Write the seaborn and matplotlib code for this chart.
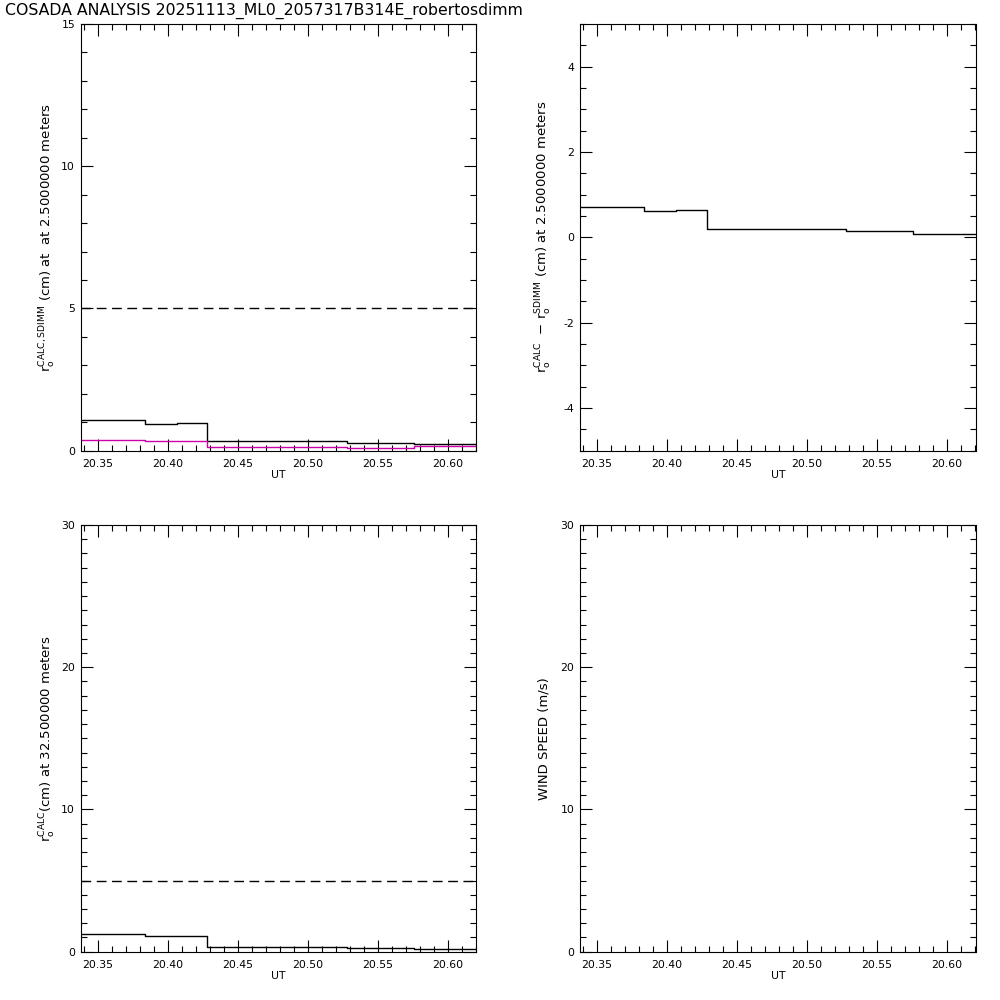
import numpy as np
import pandas as pd
import matplotlib
matplotlib.use("Agg")
import matplotlib.pyplot as plt
from matplotlib.ticker import MultipleLocator, FormatStrFormatter
import seaborn as sns

# ---- data ----
ut_edges = [20.3379, 20.3838, 20.4064, 20.4283, 20.5278, 20.5759, 20.6203]
r0_calc_2p5 = [1.07, 0.95, 0.96, 0.33, 0.26, 0.22]
r0_sdimm_2p5 = [0.37, 0.34, 0.33, 0.12, 0.08, 0.15]
r0_diff_2p5 = [0.70, 0.61, 0.63, 0.20, 0.155, 0.07]
r0_calc_32p5 = [1.23, 1.09, 1.09, 0.36, 0.29, 0.22]
ref_level_top = 5.0
ref_level_bottom = 5.0
x_ticks = [20.35, 20.40, 20.45, 20.50, 20.55, 20.60]

title = "COSADA ANALYSIS 20251113_ML0_2057317B314E_robertosdimm"
ylab_tl = r"r$_{\mathrm{o}}^{\mathrm{CALC,SDIMM}}$ (cm) at  at 2.5000000 meters"
ylab_tr = r"r$_{\mathrm{o}}^{\mathrm{CALC}}$  $-$ r$_{\mathrm{o}}^{\mathrm{SDIMM}}$ (cm) at 2.5000000 meters"
ylab_bl = r"r$_{\mathrm{o}}^{\mathrm{CALC}}$(cm) at 32.500000 meters"
ylab_br = "WIND SPEED (m/s)"

sns.set_theme(style="ticks")
plt.rcParams["font.family"] = ["DejaVu Sans"]
plt.rcParams["mathtext.fontset"] = "dejavusans"
plt.rcParams["axes.linewidth"] = 0.8

def step_df(vals):
    return pd.DataFrame({"UT": ut_edges, "v": list(vals) + [vals[-1]]})

fig = plt.figure(figsize=(10, 10), dpi=100)
fig.patch.set_facecolor("white")

L1, L2, W = 0.0807, 0.580, 0.3955
B1, B2, H = 0.5493, 0.0483, 0.4267
ax_tl = fig.add_axes([L1, B1, W, H])
ax_tr = fig.add_axes([L2, B1, W, H])
ax_bl = fig.add_axes([L1, B2, W, H])
ax_br = fig.add_axes([L2, B2, W, H])

lw = 1.0
sns.lineplot(data=step_df(r0_calc_2p5), x="UT", y="v", ax=ax_tl, color="black",
             drawstyle="steps-post", lw=lw, estimator=None, sort=False)
sns.lineplot(data=step_df(r0_sdimm_2p5), x="UT", y="v", ax=ax_tl, color="#cc00aa",
             drawstyle="steps-post", lw=lw, estimator=None, sort=False)
ax_tl.axhline(ref_level_top, color="black", lw=lw, ls=(0, (7, 4)))

sns.lineplot(data=step_df(r0_diff_2p5), x="UT", y="v", ax=ax_tr, color="black",
             drawstyle="steps-post", lw=lw, estimator=None, sort=False)

sns.lineplot(data=step_df(r0_calc_32p5), x="UT", y="v", ax=ax_bl, color="black",
             drawstyle="steps-post", lw=lw, estimator=None, sort=False)
ax_bl.axhline(ref_level_bottom, color="black", lw=lw, ls=(0, (7, 4)))

settings = [
    (ax_tl, (0, 15), 5, 1, ylab_tl, 2),
    (ax_tr, (-5, 5), 2, 0.5, ylab_tr, 7),
    (ax_bl, (0, 30), 10, 1, ylab_bl, 2),
    (ax_br, (0, 30), 10, 1, ylab_br, 7),
]
for ax, ylim, ymaj, ymin, ylab, pad in settings:
    ax.set_facecolor("white")
    ax.set_xlim(ut_edges[0], ut_edges[-1])
    ax.set_ylim(*ylim)
    ax.set_xticks(x_ticks)
    ax.xaxis.set_major_formatter(FormatStrFormatter("%.2f"))
    ax.xaxis.set_minor_locator(MultipleLocator(0.01))
    ax.yaxis.set_major_locator(MultipleLocator(ymaj))
    ax.yaxis.set_minor_locator(MultipleLocator(ymin))
    ax.yaxis.set_major_formatter(FormatStrFormatter("%d"))
    ax.tick_params(which="both", direction="in", top=True, right=True,
                   color="black", width=0.8, labelsize=7.8, labelcolor="black")
    ax.tick_params(which="major", length=8.5)
    ax.tick_params(which="minor", length=4.5)
    ax.tick_params(axis="x", pad=6)
    ax.tick_params(axis="y", pad=4)
    for s in ax.spines.values():
        s.set_visible(True)
        s.set_color("black")
        s.set_linewidth(0.8)
    ax.set_xlabel("UT", fontsize=7.8, labelpad=1, color="black")
    ax.set_ylabel(ylab, fontsize=9.5, labelpad=pad, color="black")
    ax.grid(False)

fig.text(0.005, 0.997, title, fontsize=11.3, ha="left", va="top", color="black")

fig.savefig("out.png", dpi=100, facecolor="white")
